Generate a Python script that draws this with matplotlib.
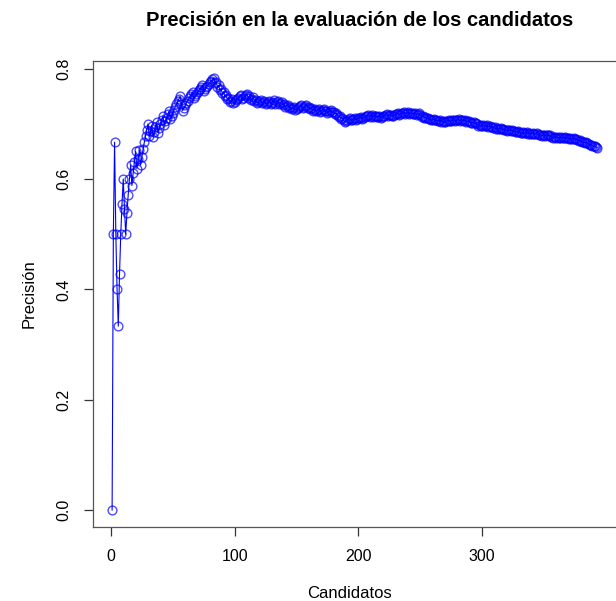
import numpy as np
import matplotlib
matplotlib.use("Agg")
import matplotlib.pyplot as plt

plt.rcParams['font.family'] = ['Liberation Sans', 'DejaVu Sans']

# aciertos (1) / fallos (0) de cada candidato, en bloques de 10
hits_blocks = [
    "0110001111", "0011110111", "0110111111", "0110111011", "1101111011",
    "1111110011", "1111110111", "1111011111", "1110101010", "1010101101",
    "1111101111", "0101101011", "1011011101", "1101101101", "0110101101",
    "1111011101", "0101101101", "1101011101", "0100101001", "1110111011",
    "1101111101", "1011011011", "1110110111", "1101111011", "0110110110",
    "0101010101", "1010110101", "1110111011", "1011010110", "0110100101",
    "1011010101", "0101101010", "1101010110", "0110110101", "1011001011",
    "0110100110", "1011011010", "1011010010", "0101000100100",
]
x_ticks = [0, 100, 200, 300]
y_ticks = [0.0, 0.2, 0.4, 0.6, 0.8]
title = "Precisión en la evaluación de los candidatos"
x_label = "Candidatos"
y_label = "Precisión"

hits = np.array([int(c) for c in "".join(hits_blocks)])
n = np.arange(1, len(hits) + 1)
precision = np.cumsum(hits) / n

W, H = 616, 601
fig = plt.figure(figsize=(W / 100, H / 100), dpi=100)
# caja del grafico (el borde derecho queda fuera de la imagen)
left, right, top, bottom = 92.7, 616.7, 60.7, 527.3
ax = fig.add_axes([left / W, 1 - bottom / H, (right - left) / W, (bottom - top) / H])

ax.plot(n, precision, color='blue', lw=0.8)
ax.plot(n, precision, ls='none', marker='o', ms=6.3, mfc='none',
        mec=(0, 0, 1, 0.7), mew=1.0)

# rango estilo R (4% de margen)
dx = 0.04 * (n[-1] - n[0])
ax.set_xlim(n[0] - dx, n[-1] + dx)
ymax = precision.max()
ax.set_ylim(-0.04 * ymax, ymax * 1.04)

ax.set_xticks(x_ticks)
ax.set_xticklabels([str(t) for t in x_ticks])
ax.set_yticks(y_ticks)
ax.set_yticklabels(["%.1f" % t for t in y_ticks], rotation=90, va='center')
ax.tick_params(direction='out', length=6.5, width=0.9, colors='#333333',
               labelsize=11.5, labelcolor='black', pad=9)
for s in ax.spines.values():
    s.set_color('#555555')
    s.set_linewidth(0.9)

fig.text(360 / W, 1 - 20 / H, title, ha='center', va='center',
         fontsize=14.5, fontweight='bold')
fig.text(349 / W, 1 - 593 / H, x_label, ha='center', va='center', fontsize=12)
fig.text(29 / W, 1 - 294 / H, y_label, ha='center', va='center', fontsize=12,
         rotation=90)

fig.savefig("out.png", dpi=100)
